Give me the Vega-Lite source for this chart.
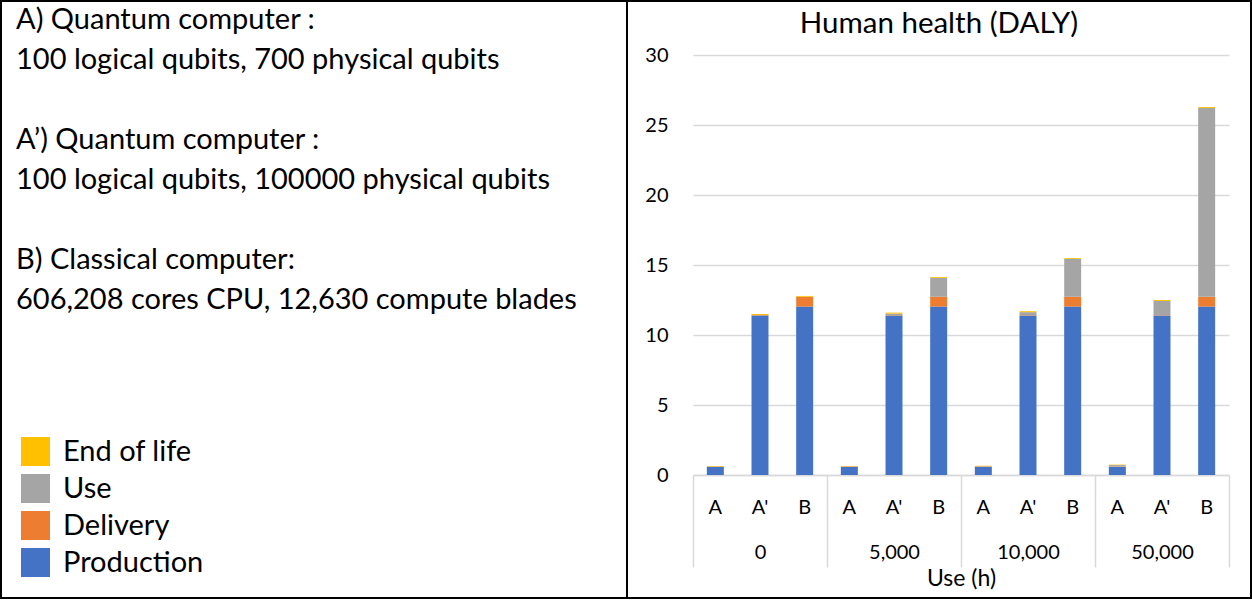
{
  "$schema": "https://vega.github.io/schema/vega-lite/v6.json",
  "padding": 0,
  "bounds": "flush",
  "spacing": 0,
  "config": {
    "font": "Lato",
    "view": {"stroke": null},
    "legend": {
      "orient": "none",
      "legendX": 20,
      "legendY": 436,
      "title": null,
      "symbolType": "square",
      "symbolSize": 841,
      "symbolStrokeWidth": 0,
      "symbolOpacity": 1,
      "labelFontSize": 29,
      "labelColor": "black",
      "labelOffset": 13,
      "rowPadding": 7,
      "padding": 0
    }
  },
  "hconcat": [
    {
      "width": 626,
      "height": 597,
      "title": {
        "text": [
          "A) Quantum computer :",
          "100 logical qubits, 700 physical qubits",
          "\u200b",
          "A’) Quantum computer :",
          "100 logical qubits, 100000 physical qubits",
          "\u200b",
          "B) Classical computer:",
          "606,208 cores CPU, 12,630 compute blades"
        ],
        "anchor": "start",
        "frame": "group",
        "orient": "top",
        "offset": -315,
        "dx": 15,
        "fontSize": 29,
        "fontWeight": "normal",
        "lineHeight": 40,
        "color": "black"
      },
      "data": {"values": [{}]},
      "mark": {"type": "rect", "fill": "transparent", "stroke": "black", "strokeWidth": 2}
    },
    {
      "width": 624,
      "height": 597,
      "view": {"stroke": "black", "strokeWidth": 2},
      "title": {
        "text": "Human health (DALY)",
        "anchor": "middle",
        "frame": "group",
        "orient": "top",
        "offset": -38,
        "fontSize": 29.5,
        "fontWeight": "normal",
        "color": "black"
      },
      "data": {
        "values": [
          {"use": "0", "type": "A", "component": "Production", "value": 0.58},
          {"use": "0", "type": "A", "component": "Delivery", "value": 0.03},
          {"use": "0", "type": "A", "component": "Use", "value": 0.0},
          {"use": "0", "type": "A", "component": "End of life", "value": 0.03},
          {"use": "0", "type": "A'", "component": "Production", "value": 11.4},
          {"use": "0", "type": "A'", "component": "Delivery", "value": 0.03},
          {"use": "0", "type": "A'", "component": "Use", "value": 0.0},
          {"use": "0", "type": "A'", "component": "End of life", "value": 0.07},
          {"use": "0", "type": "B", "component": "Production", "value": 12.03},
          {"use": "0", "type": "B", "component": "Delivery", "value": 0.7},
          {"use": "0", "type": "B", "component": "Use", "value": 0.0},
          {"use": "0", "type": "B", "component": "End of life", "value": 0.06},
          {"use": "5,000", "type": "A", "component": "Production", "value": 0.58},
          {"use": "5,000", "type": "A", "component": "Delivery", "value": 0.03},
          {"use": "5,000", "type": "A", "component": "Use", "value": 0.01},
          {"use": "5,000", "type": "A", "component": "End of life", "value": 0.03},
          {"use": "5,000", "type": "A'", "component": "Production", "value": 11.4},
          {"use": "5,000", "type": "A'", "component": "Delivery", "value": 0.03},
          {"use": "5,000", "type": "A'", "component": "Use", "value": 0.1},
          {"use": "5,000", "type": "A'", "component": "End of life", "value": 0.07},
          {"use": "5,000", "type": "B", "component": "Production", "value": 12.03},
          {"use": "5,000", "type": "B", "component": "Delivery", "value": 0.7},
          {"use": "5,000", "type": "B", "component": "Use", "value": 1.35},
          {"use": "5,000", "type": "B", "component": "End of life", "value": 0.06},
          {"use": "10,000", "type": "A", "component": "Production", "value": 0.58},
          {"use": "10,000", "type": "A", "component": "Delivery", "value": 0.03},
          {"use": "10,000", "type": "A", "component": "Use", "value": 0.02},
          {"use": "10,000", "type": "A", "component": "End of life", "value": 0.03},
          {"use": "10,000", "type": "A'", "component": "Production", "value": 11.4},
          {"use": "10,000", "type": "A'", "component": "Delivery", "value": 0.03},
          {"use": "10,000", "type": "A'", "component": "Use", "value": 0.2},
          {"use": "10,000", "type": "A'", "component": "End of life", "value": 0.07},
          {"use": "10,000", "type": "B", "component": "Production", "value": 12.03},
          {"use": "10,000", "type": "B", "component": "Delivery", "value": 0.7},
          {"use": "10,000", "type": "B", "component": "Use", "value": 2.7},
          {"use": "10,000", "type": "B", "component": "End of life", "value": 0.06},
          {"use": "50,000", "type": "A", "component": "Production", "value": 0.58},
          {"use": "50,000", "type": "A", "component": "Delivery", "value": 0.03},
          {"use": "50,000", "type": "A", "component": "Use", "value": 0.1},
          {"use": "50,000", "type": "A", "component": "End of life", "value": 0.03},
          {"use": "50,000", "type": "A'", "component": "Production", "value": 11.4},
          {"use": "50,000", "type": "A'", "component": "Delivery", "value": 0.03},
          {"use": "50,000", "type": "A'", "component": "Use", "value": 1.0},
          {"use": "50,000", "type": "A'", "component": "End of life", "value": 0.07},
          {"use": "50,000", "type": "B", "component": "Production", "value": 12.03},
          {"use": "50,000", "type": "B", "component": "Delivery", "value": 0.7},
          {"use": "50,000", "type": "B", "component": "Use", "value": 13.48},
          {"use": "50,000", "type": "B", "component": "End of life", "value": 0.07}
        ]
      },
      "transform": [
        {"calculate": "datum.use + '|' + datum.type", "as": "cat"},
        {"calculate": "indexof(['Production','Delivery','Use','End of life'], datum.component)", "as": "stackOrder"}
      ],
      "layer": [
        {
          "mark": {"type": "bar"},
          "encoding": {
            "x": {
              "field": "cat",
              "type": "nominal",
              "scale": {
                "domain": ["0|A", "0|A'", "0|B", "5,000|A", "5,000|A'", "5,000|B", "10,000|A", "10,000|A'", "10,000|B", "50,000|A", "50,000|A'", "50,000|B"],
                "range": [66, 602],
                "paddingInner": 0.62,
                "paddingOuter": 0.31
              },
              "axis": {
                "orient": "bottom",
                "offset": -123,
                "title": null,
                "domain": false,
                "ticks": false,
                "labelAngle": 0,
                "labelPadding": 22,
                "labelFontSize": 20,
                "labelColor": "black",
                "labelExpr": "split(datum.value, '|')[1]"
              }
            },
            "y": {
              "field": "value",
              "type": "quantitative",
              "stack": "zero",
              "scale": {"domain": [0, 30], "range": [474, 54], "nice": false},
              "axis": {
                "orient": "left",
                "offset": -66,
                "title": null,
                "values": [0, 5, 10, 15, 20, 25, 30],
                "domain": false,
                "ticks": false,
                "tickSize": 0,
                "labelPadding": 25,
                "labelFontSize": 20,
                "labelColor": "black",
                "grid": true,
                "gridColor": "#d9d9d9",
                "gridWidth": 1.5
              }
            },
            "color": {
              "field": "component",
              "type": "nominal",
              "scale": {
                "domain": ["End of life", "Use", "Delivery", "Production"],
                "range": ["#FFC000", "#A5A5A5", "#ED7D31", "#4472C4"]
              }
            },
            "order": {"field": "stackOrder", "type": "quantitative", "sort": "ascending"}
          }
        },
        {
          "mark": {"type": "rule", "opacity": 0},
          "encoding": {
            "x": {
              "field": "use",
              "type": "nominal",
              "scale": {"domain": ["0", "5,000", "10,000", "50,000"], "range": [66, 602], "paddingInner": 0, "paddingOuter": 0},
              "axis": {
                "orient": "bottom",
                "offset": -123,
                "title": "Use (h)",
                "titleFontSize": 23,
                "titleFontWeight": "normal",
                "titleColor": "black",
                "titlePadding": 0,
                "tickBand": "extent",
                "tickSize": 92,
                "tickColor": "#d9d9d9",
                "tickWidth": 1.5,
                "domain": true,
                "domainColor": "#d9d9d9",
                "domainWidth": 1.5,
                "labelAngle": 0,
                "labelPadding": -25,
                "labelFontSize": 20,
                "labelColor": "black"
              }
            }
          }
        }
      ],
      "resolve": {"scale": {"x": "independent"}, "axis": {"x": "independent"}}
    }
  ]
}
